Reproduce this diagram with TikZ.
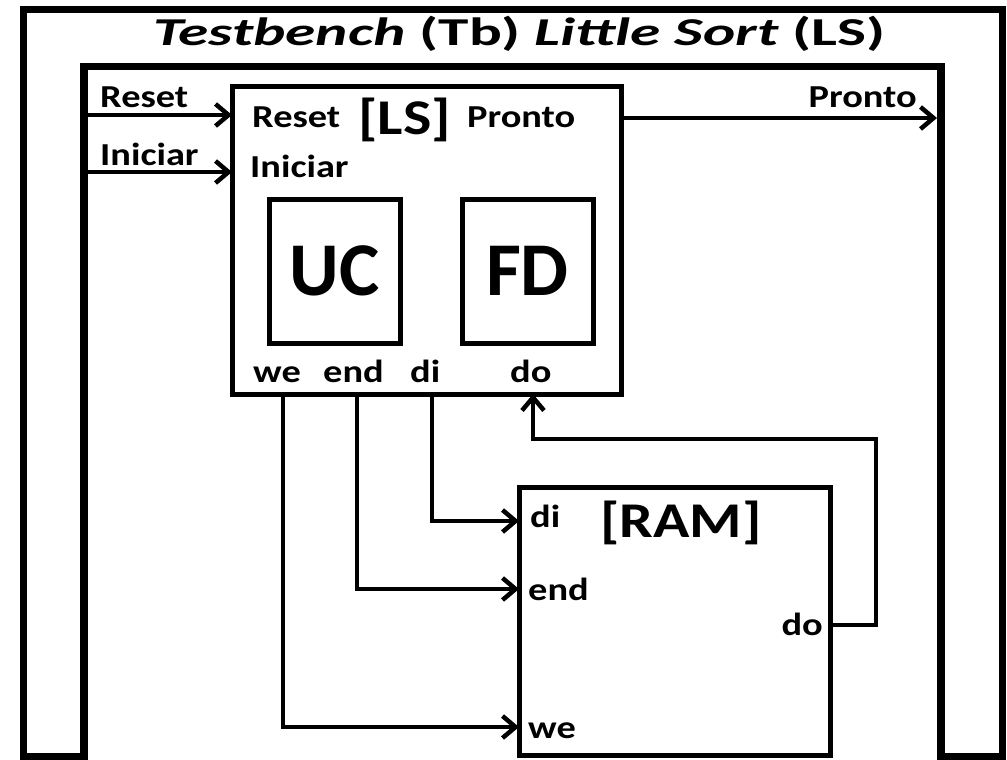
\documentclass[tikz,border=0pt]{standalone}
\usepackage{fontspec}
\setmainfont{Carlito}
\newfontfamily\lblfont{Carlito}[FakeStretch=1.2]
\newfontfamily\ttlfont{Carlito}[FakeStretch=1.55]
\usetikzlibrary{arrows.meta}

\tikzset{
  blk/.style={draw, line width=5pt, inner sep=0pt, outer sep=0pt},
  lbl/.style={font=\lblfont\bfseries\fontsize{32}{32}\selectfont, inner sep=0pt},
  big/.style={font=\lblfont\bfseries\fontsize{50}{50}\selectfont, inner sep=0pt},
  wire/.style={line width=4.5pt},
  sig/.style={wire, -{Straight Barb[length=13pt,width=22pt]}}
}

\begin{document}
\begin{tikzpicture}[x=1pt, y=-1pt, line join=miter]
\useasboundingbox (0,0) rectangle (1007,760);

% testbench frame
\draw[line width=7.5pt] (23.5,756.5) -- (23.5,9.5) -- (1002.5,9.5) -- (1002.5,756.5)
      -- (941,756.5) -- (941,66.5) -- (84,66.5) -- (84,756.5) -- cycle;
\node[anchor=base west, inner sep=0pt, font=\ttlfont\bfseries\fontsize{39.5}{40}\selectfont] (title) at (153,46)
  {\itshape Testbench \upshape(Tb) \itshape Little Sort \upshape(LS)};

% blocks
\node[blk, minimum width=389pt, minimum height=307pt] (ls) at (426.5,240.5) {};
\node[blk, minimum width=131pt, minimum height=144pt, font=\bfseries\fontsize{76}{76}\selectfont] (uc) at (334.5,271) {UC};
\node[blk, minimum width=131pt, minimum height=144pt, font=\bfseries\fontsize{76}{76}\selectfont] (fd) at (527.5,271) {FD};
\node[blk, minimum width=311pt, minimum height=268pt] (ram) at (674.5,621) {};

% labels of LS
\node[lbl, anchor=base west] (lsrst) at (252,128) {Reset};
\node[big, anchor=base west] (lsname) at (358,134) {[LS]};
\node[lbl, anchor=base west] (lspro) at (467,128) {Pronto};
\node[lbl, anchor=base west] (lsini) at (250,177) {Iniciar};
\node[lbl, anchor=base west] (lswe) at (253,382) {we};
\node[lbl, anchor=base west] (lsend) at (323,382) {end};
\node[lbl, anchor=base west] (lsdi) at (410,382) {di};
\node[lbl, anchor=base west] (lsdo) at (510,382) {do};

% labels of RAM
\node[lbl, anchor=base west] (ramdi) at (530,527) {di};
\node[big, anchor=base west] (ramname) at (600,537) {[RAM]};
\node[lbl, anchor=base west] (ramend) at (528,600) {end};
\node[lbl, anchor=base east] (ramdo) at (823,635) {do};
\node[lbl, anchor=base west] (ramwe) at (528,738) {we};

% testbench signals
\node[lbl, anchor=base west] (tbrst) at (100,107) {Reset};
\node[lbl, anchor=base west] (tbini) at (100,165) {Iniciar};
\node[lbl, anchor=base east] (tbpro) at (917,107) {Pronto};
\coordinate (rst) at (84,115);
\coordinate (ini) at (84,172);
\coordinate (pro) at (937,118);
\draw[sig] (rst) -- (rst -| ls.west);
\draw[sig] (ini) -- (ini -| ls.west);
\draw[sig] (pro -| ls.east) -- (pro);

% LS <-> RAM
\coordinate (we) at (283,727);
\coordinate (adr) at (357,589);
\coordinate (din) at (432,521);
\coordinate (dout) at (876,625);
\coordinate (back) at (533,439);
\draw[sig] (we |- ls.south) -- (we) -- (we -| ram.west);
\draw[sig] (adr |- ls.south) -- (adr) -- (adr -| ram.west);
\draw[sig] (din |- ls.south) -- (din) -- (din -| ram.west);
\draw[sig] (dout -| ram.east) -- (dout) |- (back) -- (back |- ls.south);
\end{tikzpicture}
\end{document}
